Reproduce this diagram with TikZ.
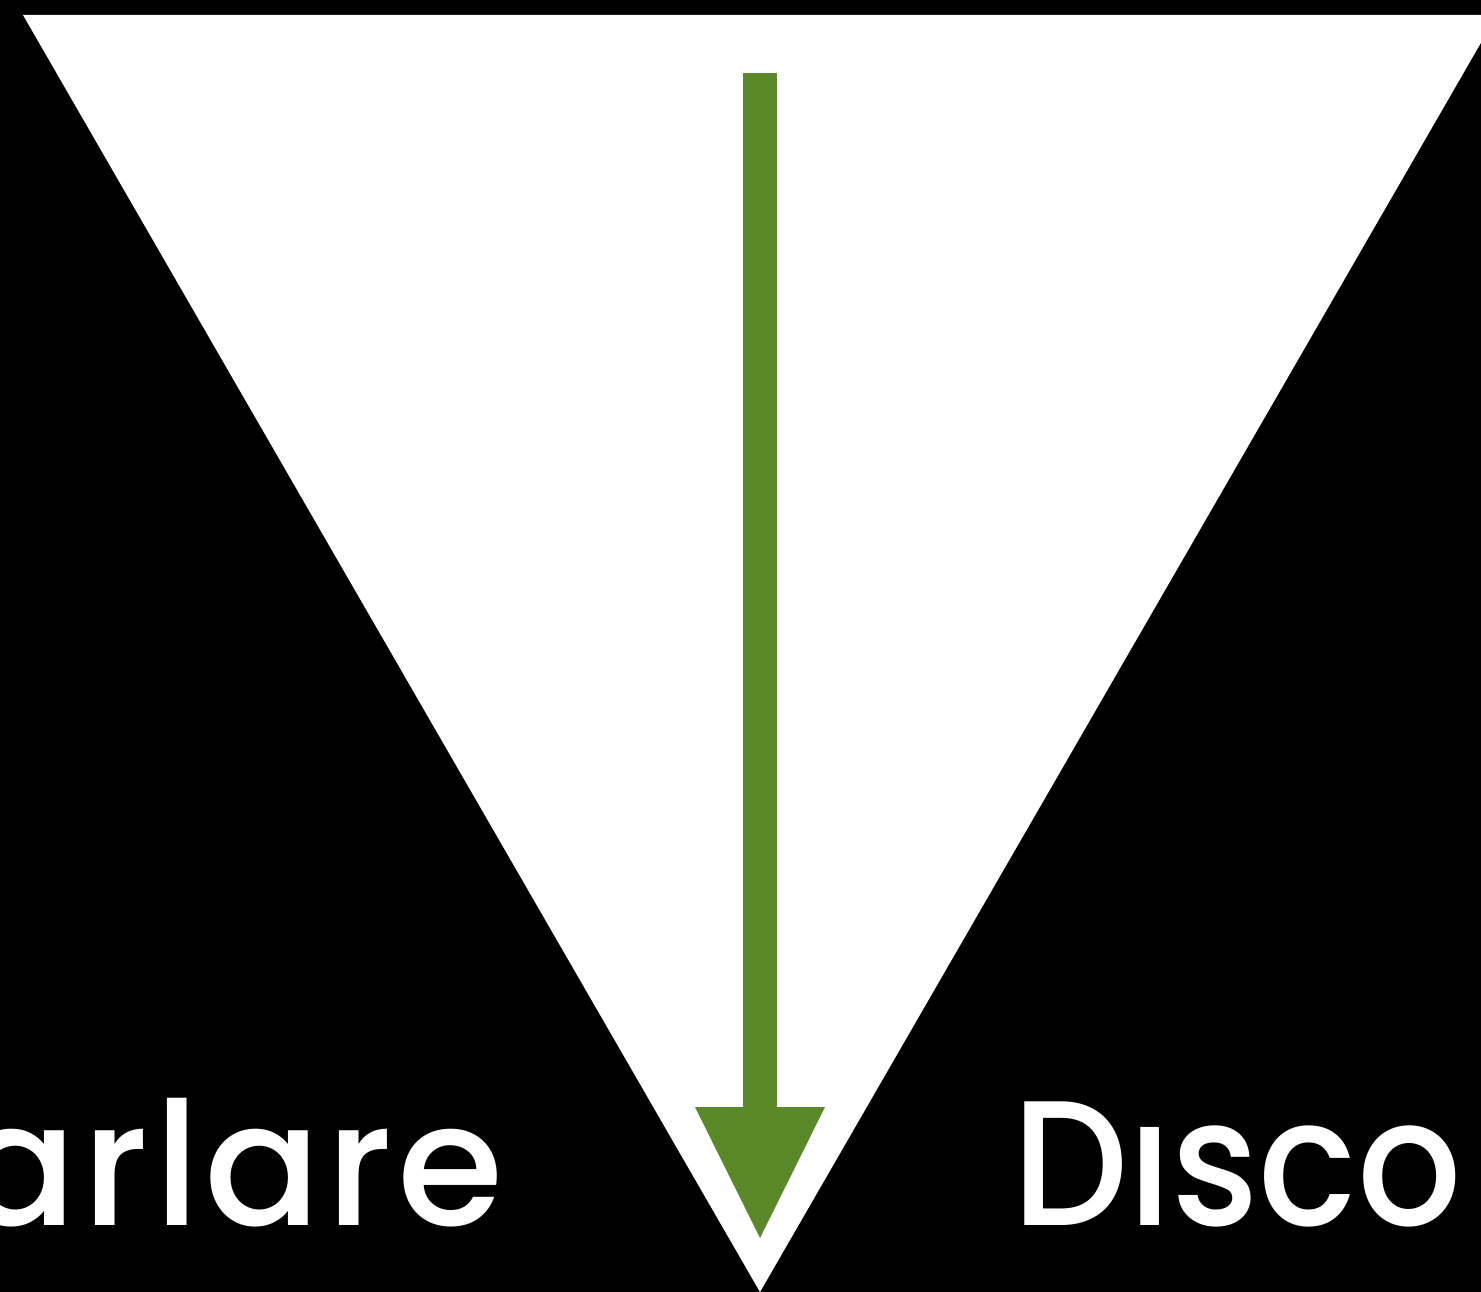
\documentclass[tikz,border=0pt]{standalone}
\usepackage{fontspec}
\setmainfont{Poppins}
\newfontfamily\wordfont{Poppins}[UprightFont=* Medium, FakeStretch=0.92]
\newfontfamily\leftwordfont{Poppins}[UprightFont=* Medium, LetterSpace=3]
\usetikzlibrary{arrows.meta}
\definecolor{arrowgreen}{RGB}{91,137,41}
\tikzset{
  word/.style={text=white, inner sep=0pt, font=\wordfont\fontsize{178}{178}\selectfont},
  leftword/.style={text=white, inner sep=0pt, font=\leftwordfont\fontsize{172}{172}\selectfont},
  downarrow/.style={draw=arrowgreen, line width=34pt,
    -{Triangle[width=130pt,length=131pt,line width=0pt,fill=arrowgreen]}}
}
\begin{document}
\begin{tikzpicture}[x=1pt,y=-1pt]
  \useasboundingbox (0,0) rectangle (1481,1292);
  \clip (0,0) rectangle (1481,1292);
  \fill[black] (0,0) rectangle (1481,1292);
  \fill[white] (23,15) -- (1497,15) -- (760,1292) -- cycle;
  \coordinate (top) at (760,73);
  \coordinate (tip) at (760,1238);
  \draw[downarrow] (top) -- (tip);
  \node[leftword, anchor=base east] (left) at (504,1225) {Parlare};
  \node[word, anchor=base west] (right) at (1012,1225) {Dısco};
\end{tikzpicture}
\end{document}
